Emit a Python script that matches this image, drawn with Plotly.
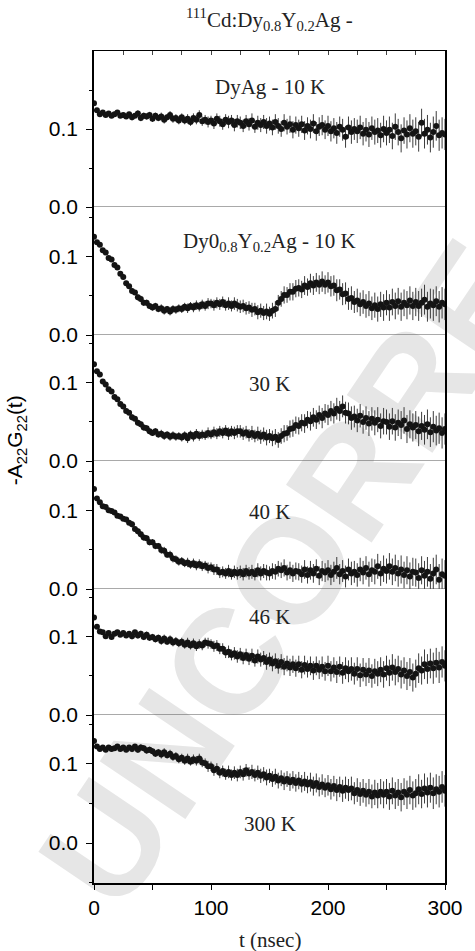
import plotly.graph_objects as go
from plotly.subplots import make_subplots

# time grid (nsec)
t_ns = [i * 2.5 for i in range(121)]

# -A22G22(t) values, in units of 1e-3
dyag_10k = [133,124,119,121,118,120,117,119,121,117,
            118,116,119,115,117,120,114,117,116,118,
            113,117,114,116,112,115,118,113,114,111,
            115,111,113,109,114,112,118,110,112,109,
            111,107,113,110,106,112,109,111,105,110,
            108,104,110,106,111,103,108,105,109,104,
            107,102,109,104,100,108,103,106,99,105,
            101,106,98,104,100,107,97,103,105,99,
            104,97,101,95,103,99,90,102,96,100,
            97,102,94,99,93,101,96,98,92,100,
            95,99,91,103,96,88,98,93,101,94,
            97,90,108,94,99,89,96,104,92,95,
            93]
dyy_10k = [125,118,115,108,105,98,96,89,86,78,
           74,66,62,56,54,48,46,41,41,37,
           35,37,33,34,31,33,30,33,32,34,
           33,36,34,37,35,38,36,39,37,40,
           40,38,41,39,42,38,40,37,40,38,
           36,37,34,35,32,33,29,31,28,30,
           27,31,33,41,46,51,51,55,55,59,
           60,58,63,61,66,63,67,64,68,64,
           67,62,63,57,58,52,53,46,47,42,
           44,39,42,37,40,34,38,33,39,35,
           41,35,42,37,43,36,41,38,44,37,
           42,37,41,45,36,40,38,43,36,41,
           39]
dyy_30k = [124,115,111,102,98,92,89,82,79,73,
           70,64,62,56,54,49,47,43,42,38,
           36,38,34,35,32,34,31,33,31,32,
           30,33,29,34,31,35,32,34,33,36,
           34,37,35,38,36,39,35,38,36,38,
           38,35,37,33,36,32,35,31,34,30,
           32,29,31,27,32,35,36,41,42,46,
           45,49,48,53,51,56,53,59,55,61,
           59,64,61,67,64,70,62,61,55,57,
           52,58,50,55,48,54,49,53,45,51,
           50,44,51,43,49,46,52,41,47,43,
           46,38,45,40,47,37,44,39,42,36,
           41]
dyy_40k = [128,116,111,106,105,101,100,98,94,93,
           90,89,85,83,77,74,70,66,65,60,
           60,55,55,50,49,44,44,39,38,35,
           36,33,34,31,33,30,32,29,30,27,
           28,25,25,21,22,20,23,19,22,20,
           22,19,23,20,22,19,24,20,23,21,
           20,23,22,26,24,27,21,24,20,23,
           22,19,25,18,24,20,26,17,23,21,
           24,18,22,27,19,23,16,25,20,22,
           18,25,21,27,19,24,22,29,20,26,
           23,29,22,27,20,25,18,24,16,22,
           21,14,24,17,22,13,20,25,12,19,
           17]
dyy_46k = [125,113,107,106,101,105,100,104,106,103,
           105,102,104,101,106,102,104,100,103,99,
           100,97,99,95,98,94,97,93,95,92,
           94,90,93,89,92,88,91,89,93,92,
           91,88,89,85,85,80,81,77,79,75,
           78,73,77,72,76,70,75,71,73,68,
           71,66,69,63,68,62,66,61,65,60,
           65,58,64,59,63,57,63,58,62,56,
           63,56,61,55,62,54,60,56,59,53,
           59,51,58,52,57,50,56,53,58,52,
           60,54,61,55,59,52,57,50,55,48,
           53,60,57,65,59,66,60,67,61,68,
           63]
dyy_300k = [129,122,119,121,118,121,119,120,122,119,
            121,118,121,119,122,118,121,120,117,118,
            116,113,115,112,115,111,113,109,110,106,
            108,104,107,103,106,104,107,102,101,97,
            97,92,94,89,91,87,90,86,89,86,
            90,87,92,88,90,86,89,85,87,83,
            85,81,84,79,82,78,81,77,80,76,
            79,75,78,74,77,72,76,71,74,70,
            73,68,72,67,71,66,70,67,69,63,
            67,62,66,61,65,59,64,60,65,61,
            65,59,66,60,64,58,65,61,67,60,
            63,68,62,69,64,70,63,68,65,71,
            66]
# error bars (1e-3)
err_milli = [2,2,3,2,3,3,3,3,3,3,
             3,3,3,4,3,4,4,4,4,4,
             4,4,4,5,5,4,5,5,5,5,
             5,5,6,5,6,6,6,6,6,7,
             6,7,7,7,7,7,8,7,8,8,
             8,8,8,8,9,8,9,9,9,10,
             9,10,10,10,10,11,10,11,11,11,
             11,11,12,11,12,12,12,12,13,12,
             13,13,13,14,13,14,14,14,15,14,
             15,15,15,15,16,15,16,16,16,17,
             16,17,17,17,17,18,17,18,18,18,
             18,19,18,19,19,19,20,19,20,20,
             20]

series = [dyag_10k, dyy_10k, dyy_30k, dyy_40k, dyy_46k, dyy_300k]
labels = ["DyAg - 10 K",
          "Dy0<sub>0.8</sub>Y<sub>0.2</sub>Ag - 10 K",
          "30 K", "40 K", "46 K", "300 K"]
label_y = [0.154, 0.118, 0.099, 0.099, 0.126, 0.024]
y_ranges = [[0, 0.2], [0, 0.163], [0, 0.1615], [0, 0.164], [0, 0.1615], [-0.0506, 0.162]]
x_ticks = [0, 100, 200, 300]

fig = make_subplots(rows=6, cols=1, shared_xaxes=True, vertical_spacing=0,
                    row_heights=[156, 128, 126, 128, 126, 168])

sans = "Liberation Sans"
serif = "Liberation Serif"

for r, vals in enumerate(series, start=1):
    fig.add_trace(go.Scatter(
        x=t_ns, y=[v / 1000 for v in vals], mode="markers",
        marker=dict(size=6, color="#141414"),
        error_y=dict(type="data", array=[e / 1000 for e in err_milli],
                     color="#3c3c3c", thickness=1, width=0),
        showlegend=False, hoverinfo="skip"), row=r, col=1)
    fig.update_yaxes(row=r, col=1, range=y_ranges[r - 1], tickvals=[0, 0.1],
                     ticktext=["0.0", "0.1"], ticks="outside", ticklen=6,
                     tickcolor="black", showline=True, linecolor="black",
                     linewidth=1.5, mirror=True, showgrid=False, zeroline=False,
                     tickfont=dict(family=sans, size=21, color="black"),
                     ticklabelstandoff=4,
                     minor=dict(tickvals=[-0.05, 0.05, 0.15], ticks="outside",
                                ticklen=3, tickcolor="black"))
    fig.update_xaxes(row=r, col=1, range=[0, 300], showgrid=False, zeroline=False)
    if r < 6:
        fig.add_hline(y=0, row=r, col=1, line=dict(color="#555555", width=1.2))
    yref = "y" if r == 1 else f"y{r}"
    fig.add_annotation(x=150, y=label_y[r - 1], xref="x", yref=yref,
                       text=labels[r - 1], showarrow=False,
                       xanchor="center", yanchor="middle",
                       font=dict(family=serif, size=21, color="#222222"))

fig.update_xaxes(row=1, col=1, side="top", showline=True, linecolor="black",
                 linewidth=1, ticks="inside", dtick=25, tick0=0, ticklen=4,
                 showticklabels=False)
for r in range(2, 6):
    fig.update_xaxes(row=r, col=1, showline=False, ticks="", showticklabels=False)
fig.update_xaxes(row=6, col=1, showline=True, linecolor="black", linewidth=1.5,
                 ticks="outside", tickvals=x_ticks, ticktext=[str(v) for v in x_ticks],
                 ticklen=5, tickcolor="black",
                 tickfont=dict(family=sans, size=21, color="black"),
                 minor=dict(tickvals=[50, 150, 250], ticks="outside", ticklen=5,
                            tickcolor="black"))

# title, axis titles
fig.add_annotation(x=0.5, y=1.0373, xref="paper", yref="paper",
                   xanchor="center", yanchor="middle",
                   text="<sup>111</sup>Cd:Dy<sub>0.8</sub>Y<sub>0.2</sub>Ag -",
                   showarrow=False, font=dict(family=serif, size=21, color="#222222"))
fig.add_annotation(x=0.5, y=-0.0685, xref="paper", yref="paper", text="t (nsec)",
                   xanchor="center", yanchor="middle",
                   showarrow=False, font=dict(family=serif, size=21, color="#222222"))
fig.add_annotation(x=-0.22, y=0.532, xref="paper", yref="paper",
                   xanchor="center", yanchor="middle",
                   text="-A<sub>22</sub>G<sub>22</sub>(t)", textangle=-90,
                   showarrow=False, font=dict(family=sans, size=21, color="black"))

# watermark, drawn below the data
fig.add_shape(type="line", xref="paper", yref="paper", layer="below",
              x0=1.149, y0=0.7716, x1=1.457, y1=0.971,
              line=dict(color="rgba(0,0,0,0)", width=0),
              label=dict(text="<b>UNCORRECTED PROOF</b>", textangle=-56,
                         textposition="middle", xanchor="center", yanchor="middle",
                         font=dict(family=sans, size=150, color="#e6e6e6")))

fig.update_layout(width=475, height=951, margin=dict(l=94, r=18, t=51, b=68),
                  paper_bgcolor="white", plot_bgcolor="white")

fig.write_html("out.html", config={"displayModeBar": False},
               post_script="document.body.style.margin='0px';")
